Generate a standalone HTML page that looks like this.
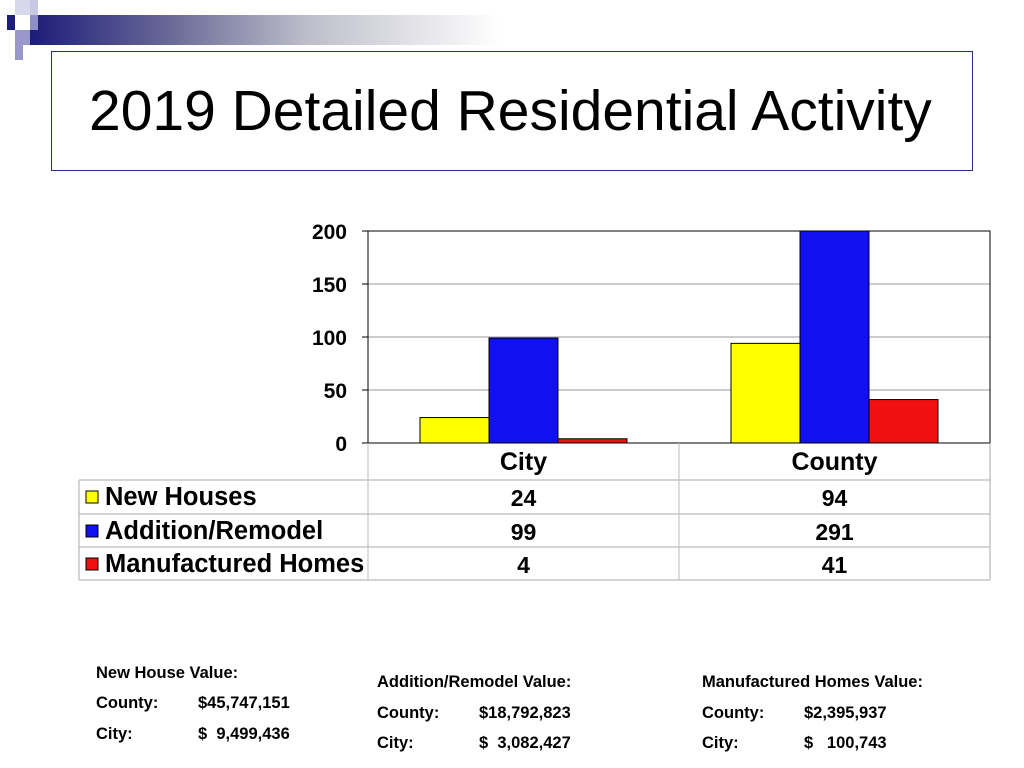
<!DOCTYPE html>
<html><head><meta charset="utf-8"><style>
body{margin:0;width:1024px;height:768px;background:#fff;font-family:"Liberation Sans",Arial,sans-serif;position:relative;overflow:hidden}
.a{position:absolute}
.v{position:absolute;font-weight:bold;font-size:16.5px;color:#000;white-space:pre}
</style></head><body>
<div class="a" style="left:30px;top:15px;width:470px;height:30px;background:linear-gradient(90deg,#1c1c7a 0%,#6a6a98 30%,#c0c0cc 60%,#fff 100%)"></div>
<div class="a" style="left:7px;top:15px;width:8px;height:15px;background:#1c1c7a"></div>
<div class="a" style="left:15px;top:0;width:15px;height:15px;background:#d8d8ec"></div>
<div class="a" style="left:15px;top:15px;width:15px;height:15px;background:#fff"></div>
<div class="a" style="left:30px;top:0;width:8px;height:30px;background:#c8c8e4"></div>
<div class="a" style="left:30px;top:15px;width:8px;height:15px;background:#9090c8"></div>
<div class="a" style="left:15px;top:30px;width:15px;height:15px;background:#9898cc"></div>
<div class="a" style="left:15px;top:45px;width:8px;height:15px;background:#9898cc"></div>
<div class="a" style="left:51px;top:51px;width:920px;height:118px;border:1px solid #2a2a80"></div>
<div class="a" style="left:89px;top:78px;font-size:57px;color:#000;white-space:nowrap">2019 Detailed Residential Activity</div>

<svg class="a" style="left:0;top:0" width="1024" height="768" id="chart"></svg>

<div class="v" style="left:96px;top:664px">New House Value:</div>
<div class="v" style="left:96px;top:694px">County:</div>
<div class="v" style="left:198px;top:694px">$45,747,151</div>
<div class="v" style="left:96px;top:725px">City:</div>
<div class="v" style="left:198px;top:725px">$  9,499,436</div>
<div class="v" style="left:377px;top:673px">Addition/Remodel Value:</div>
<div class="v" style="left:377px;top:704px">County:</div>
<div class="v" style="left:479px;top:704px">$18,792,823</div>
<div class="v" style="left:377px;top:734px">City:</div>
<div class="v" style="left:479px;top:734px">$  3,082,427</div>
<div class="v" style="left:702px;top:673px">Manufactured Homes Value:</div>
<div class="v" style="left:702px;top:704px">County:</div>
<div class="v" style="left:804px;top:704px">$2,395,937</div>
<div class="v" style="left:702px;top:734px">City:</div>
<div class="v" style="left:804px;top:734px">$   100,743</div>

<script>
const categories=["City","County"];
const seriesNames=["New Houses","Addition/Remodel","Manufactured Homes"];
const newHouses=[24,94];
const additionRemodel=[99,291];
const manufactured=[4,41];
const yTicks=[0,50,100,150,200];
const colors=["#ffff00","#1010f0","#f01010"];
const series=[newHouses,additionRemodel,manufactured];

const svg=document.getElementById('chart');
const NS="http://www.w3.org/2000/svg";
const L=368,R=990,T=231,B=443,yMax=200;
const y=v=>B-(Math.min(v,yMax)/yMax)*(B-T);
const catW=(R-L)/categories.length;
const barW=69;
const cx=i=>L+catW*(i+0.5);
function mk(tag,attrs,name){const e=document.createElementNS(NS,tag);for(const k in attrs)e.setAttribute(k,attrs[k]);


svg.appendChild(e);return e;}
function txt(s,x,yy,name,anchor,size){const t=mk('text',{x:x,y:yy,'text-anchor':anchor,'font-size':size,'font-weight':'bold','font-family':'Liberation Sans, Arial, sans-serif'},name);t.textContent=s;return t;}

yTicks.forEach(v=>{
 if(v>0) mk('line',{x1:L,x2:R,y1:y(v),y2:y(v),stroke:'#999','stroke-width':1},'gridline-'+v);
 mk('line',{x1:L-6,x2:L,y1:y(v),y2:y(v),stroke:'#000'},'y-tick-'+v);
 txt(String(v),347,y(v)+8,'y-tick-label-'+v,'end',21);
});
mk('rect',{x:L,y:T,width:R-L,height:B-T,fill:'none',stroke:'#000','stroke-width':1},'plot-area');
categories.forEach((c,i)=>{
 series.forEach((s,j)=>{
  const x=cx(i)-1.5*barW+j*barW;
  mk('rect',{x:x,y:y(s[i]),width:barW,height:B-y(s[i]),fill:colors[j],stroke:'#000','stroke-width':1},'bar-'+c.toLowerCase()+'-'+j);
 });
});
const rows=[443,480,514,547,580];
const TL=79;
mk('line',{x1:L,x2:R,y1:rows[0],y2:rows[0],stroke:'#000'},'table-top');
for(let r=1;r<rows.length;r++) mk('line',{x1:TL,x2:R,y1:rows[r],y2:rows[r],stroke:'#aaa'},'table-row-line-'+r);
mk('line',{x1:TL,x2:TL,y1:rows[1],y2:rows[4],stroke:'#aaa'},'table-left');
[L,L+catW,R].forEach((x,k)=>mk('line',{x1:x,x2:x,y1:rows[0],y2:rows[4],stroke:k==2?'#aaa':'#bbb'},'table-col-'+k));
categories.forEach((c,i)=>txt(c,cx(i),rows[0]+27,'category-label-'+c.toLowerCase(),'middle',25));
seriesNames.forEach((n,j)=>{
 const ty=rows[j+1];
 mk('rect',{x:86,y:ty+11,width:12,height:12,fill:colors[j],stroke:'#000'},'legend-key-'+j);
 txt(n,105,ty+25,'legend-entry-'+j,'start',25.5);
 series[j].forEach((v,i)=>txt(String(v),cx(i),ty+26,'table-value-'+j+'-'+i,'middle',23));
});
</script>
</body></html>
